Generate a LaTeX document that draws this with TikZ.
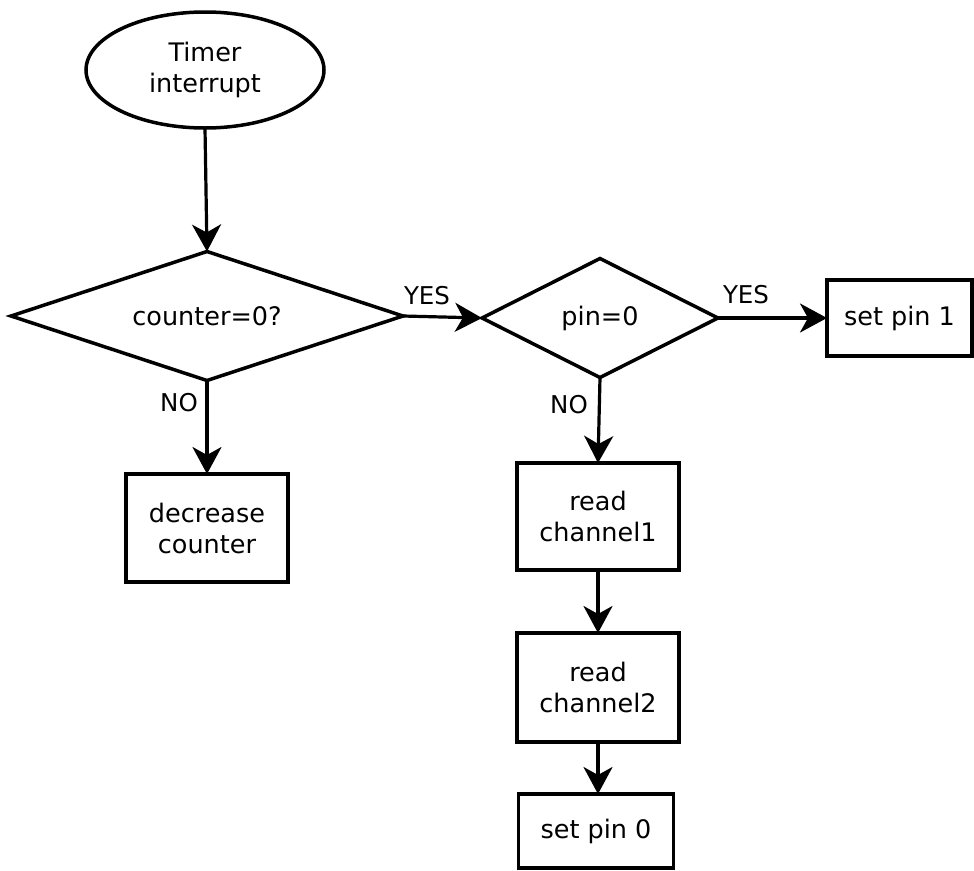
\documentclass[tikz,border=0pt]{standalone}
\usepackage{fontspec}
\setmainfont{DejaVu Sans}
\usetikzlibrary{shapes.geometric,arrows.meta}
\begin{document}
\begin{tikzpicture}[x=1pt,y=-1pt,
  every node/.style={font=\fontsize{25.5}{31}\selectfont, align=center, inner sep=0pt, outer sep=0pt},
  shapeline/.style={draw, line width=3.5pt},
  ovalbox/.style={shapeline, ellipse, minimum width=238pt, minimum height=116pt},
  decision/.style={shapeline, diamond},
  actbox/.style={shapeline, rectangle},
  flow/.style={line width=3.2pt, -{Stealth[length=27pt, width=29pt, inset=8pt]}},
  tag/.style={font=\fontsize{24.5}{28}\selectfont}
]
\useasboundingbox (0,0) rectangle (974,870);

% start
\node[ovalbox] (start) at (205,70) {Timer\\interrupt};

% decisions
\node[decision, aspect=3.04, minimum width=392pt, minimum height=129pt] (cnt) at (207,316) {counter=0?};
\node[decision, aspect=1.98, minimum width=236pt, minimum height=119pt] (pin) at (600,318) {pin=0};

% actions
\node[actbox, minimum width=145pt, minimum height=76pt] (set1) at (899.5,318) {set pin 1};
\node[actbox, minimum width=162pt, minimum height=108pt] (dec) at (207,528) {decrease\\counter};
\node[actbox, minimum width=162pt, minimum height=107pt] (rd1) at (598,516.5) {read\\channel1};
\node[actbox, minimum width=162pt, minimum height=109pt] (rd2) at (598,687.5) {read\\channel2};
\node[actbox, minimum width=155pt, minimum height=74pt] (set0) at (596,831) {set pin 0};

% connectors
\draw[flow] (start.south) -- (cnt.north);
\draw[flow] (cnt.east) -- (pin.west);
\draw[flow] (pin.east) -- (set1.west);
\draw[flow] (cnt.south) -- (dec.north);
\draw[flow] (pin.south) -- (rd1.north);
\draw[flow] (rd1.south) -- (rd2.north);
\draw[flow] (rd2.south) -- (rd2.south |- set0.north);

% branch labels
\node[tag] (yes1) at (427,296) {YES};
\node[tag] (yes2) at (746,295) {YES};
\node[tag] (no1) at (179,403) {NO};
\node[tag] (no2) at (569,405) {NO};
\end{tikzpicture}
\end{document}
